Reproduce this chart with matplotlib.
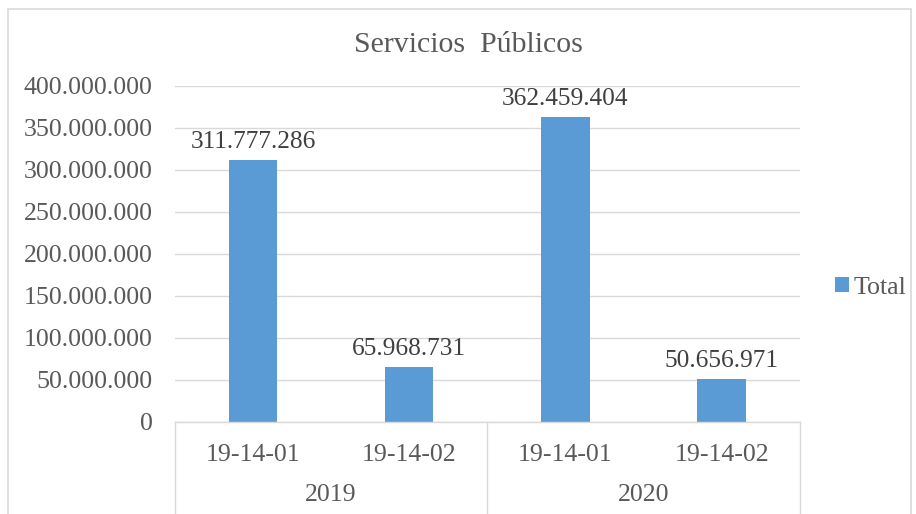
import matplotlib.pyplot as plt
from matplotlib.patches import Rectangle

# datos
anios = ["2019", "2020"]
codigos = ["19-14-01", "19-14-02", "19-14-01", "19-14-02"]
totales = [311777286, 65968731, 362459404, 50656971]

color_barra = "#5B9BD5"
color_texto = "#595959"
color_linea = "#D9D9D9"

plt.rcParams['font.family'] = ['Liberation Serif', 'DejaVu Serif']


def formato(v):
    return f"{v:,.0f}".replace(",", ".")


fig = plt.figure(figsize=(9.16, 5.14), dpi=100)
ax = fig.add_axes([0.191, 0.179, 0.682, 0.654])

x = list(range(len(totales)))
barras = ax.bar(x, totales, width=0.31, color=color_barra, label="Total", zorder=3)

for xi, v in zip(x, totales):
    ax.annotate(formato(v), (xi, v), xytext=(0, 5), textcoords="offset points",
                ha="center", va="bottom", fontsize=18.3, color="#404040")

ax.set_xlim(-0.5, 3.5)
ax.set_ylim(0, 400000000)
ticks_y = list(range(0, 400000001, 50000000))
ax.set_yticks(ticks_y)
ax.set_yticklabels([formato(t) for t in ticks_y])
ax.grid(axis="y", color=color_linea, linewidth=1, zorder=0)

ax.set_xticks(x)
ax.set_xticklabels(codigos)
ax.tick_params(axis="both", length=0, labelsize=18.6, colors=color_texto)
ax.tick_params(axis="y", pad=16)
ax.tick_params(axis="x", pad=16)

for s in ax.spines.values():
    s.set_visible(False)

# eje de categorias en dos niveles
tr = ax.get_xaxis_transform()
ax.plot([-0.5, 3.5], [0, 0], transform=tr, color=color_linea, lw=1, clip_on=False, zorder=4)
for xv in [-0.5, 1.5, 3.5]:
    ax.plot([xv, xv], [0, -0.32], transform=tr, color=color_linea, lw=1, clip_on=False)
for i, anio in enumerate(anios):
    ax.text(0.5 + 2 * i, -0.218, anio, transform=tr, ha="center", va="center",
            fontsize=18.6, color=color_texto)

fig.text(0.511, 0.912, "Servicios  Públicos", ha="center", va="center",
         fontsize=21.5, color=color_texto)

leg = ax.legend(loc="center left", bbox_to_anchor=(1.057, 0.4), frameon=False,
                fontsize=18.6, handlelength=0.55, handleheight=0.55, handletextpad=0.15,
                borderpad=0, borderaxespad=0)
for t in leg.get_texts():
    t.set_color(color_texto)

fig.patches.append(Rectangle((8 / 916, -0.1), 903 / 916, 1.1 - 9 / 514,
                             transform=fig.transFigure, fill=False,
                             edgecolor=color_linea, lw=1.2))

fig.savefig("out.png", dpi=100)
